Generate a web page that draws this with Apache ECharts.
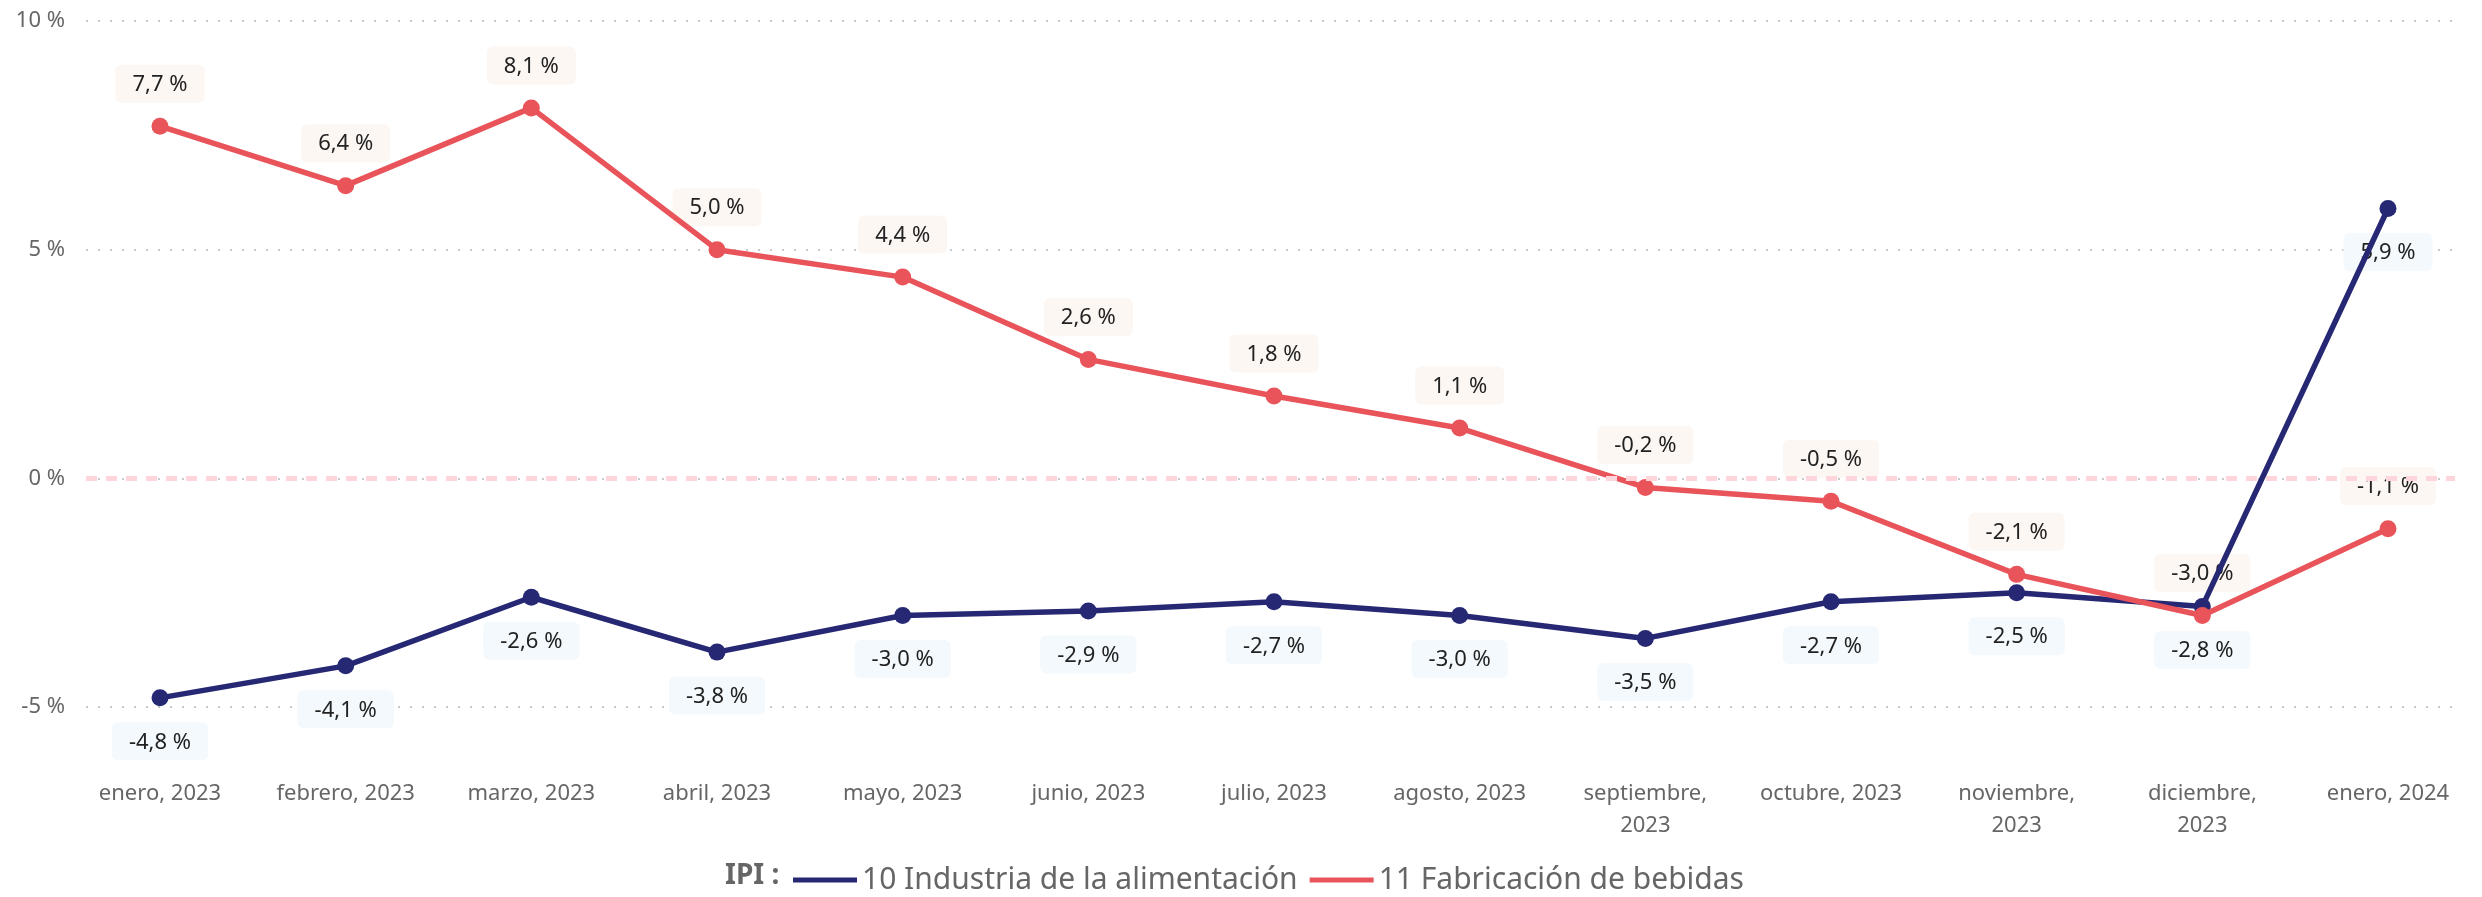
<!DOCTYPE html>
<html>
<head>
<meta charset="utf-8">
<script src="https://cdn.jsdelivr.net/npm/echarts@6/dist/echarts.min.js"></script>
<style>
  html, body { margin: 0; padding: 0; background: #fff; }
  #chart { width: 2482px; height: 897px; }
</style>
</head>
<body>
<div id="chart"></div>
<script>
const categories = ["enero, 2023", "febrero, 2023", "marzo, 2023", "abril, 2023", "mayo, 2023", "junio, 2023", "julio, 2023", "agosto, 2023", "septiembre,\n2023", "octubre, 2023", "noviembre,\n2023", "diciembre,\n2023", "enero, 2024"];
const alimentacion = [-4.8, -4.1, -2.6, -3.8, -3.0, -2.9, -2.7, -3.0, -3.5, -2.7, -2.5, -2.8, 5.9];
const bebidas = [7.7, 6.4, 8.1, 5.0, 4.4, 2.6, 1.8, 1.1, -0.2, -0.5, -2.1, -3.0, -1.1];
const seriesNames = ["10 Industria de la alimentación", "11 Fabricación de bebidas"];
const legendTitle = "IPI :";
const yTicks = { min: -5, max: 10, interval: 5 };

const FONT = "'Noto Sans', 'Open Sans', sans-serif";
const fmt = v => v.toFixed(1).replace('.', ',') + ' %';
const BLUE = '#262874';
const RED = '#E9545A';

function labelSeries(data, position, distance, bg) {
  return {
    type: 'scatter', xAxisIndex: 1, yAxisIndex: 1, data: data,
    symbolSize: 17, itemStyle: { color: 'rgba(0,0,0,0)' }, silent: true, z: 2,
    label: {
      show: true, position: position, distance: distance, opacity: 1,
      formatter: p => fmt(p.value),
      fontSize: 22, color: '#222222', fontFamily: FONT,
      backgroundColor: bg, borderRadius: 6, padding: [9, 17, 7, 17]
    }
  };
}

const chart = echarts.init(document.getElementById('chart'));
chart.setOption({
  animation: false,
  textStyle: { fontFamily: FONT },
  title: {
    text: legendTitle,
    left: 720, top: 857,
    textStyle: { fontFamily: FONT, fontSize: 28, fontWeight: 'bold', color: '#666666' }
  },
  legend: {
    left: 788, top: 860,
    icon: 'rect',
    itemWidth: 64, itemHeight: 5,
    itemGap: 12,
    textStyle: { fontFamily: FONT, fontSize: 30, color: '#666666' },
    data: seriesNames
  },
  grid: [
    { left: 86, right: 27, top: 21, height: 686 },
    { left: 160, right: 94, top: 21, height: 686 }
  ],
  xAxis: [
    { gridIndex: 0, type: 'value', min: 0, max: 1, show: false },
    {
      gridIndex: 1, type: 'category', data: categories, boundaryGap: false,
      axisLine: { show: false }, axisTick: { show: false },
      axisLabel: { margin: 71, fontSize: 22, color: '#666666', lineHeight: 32, fontFamily: FONT, interval: 0 }
    }
  ],
  yAxis: [
    {
      gridIndex: 0, type: 'value', min: yTicks.min, max: yTicks.max, interval: yTicks.interval,
      axisLine: { show: false }, axisTick: { show: false },
      axisLabel: { fontSize: 22, color: '#666666', margin: 21, formatter: v => v + ' %', fontFamily: FONT },
      splitLine: { lineStyle: { color: '#C8C8C8', width: 2, type: [2, 10] } }
    },
    {
      gridIndex: 1, type: 'value', min: yTicks.min, max: yTicks.max, interval: yTicks.interval,
      show: false, splitLine: { show: false }
    }
  ],
  series: [
    {
      type: 'line', xAxisIndex: 0, yAxisIndex: 0, data: [[0, 0], [1, 0]],
      symbol: 'none', lineStyle: { opacity: 0 }, silent: true, legendHoverLink: false, z: 1,
      markLine: {
        silent: true, symbol: 'none', label: { show: false },
        lineStyle: { color: '#FFD5DC', width: 5, type: [11, 9] },
        data: [{ yAxis: 0 }]
      }
    },
    labelSeries(alimentacion, 'bottom', 16, '#F3F9FC'),
    labelSeries(bebidas, 'top', 15, '#FDF7F4'),
    {
      name: seriesNames[0], type: 'line', xAxisIndex: 1, yAxisIndex: 1, data: alimentacion,
      color: BLUE, symbol: 'circle', symbolSize: 17, lineStyle: { width: 5.5 },
      z: 3
    },
    {
      name: seriesNames[1], type: 'line', xAxisIndex: 1, yAxisIndex: 1, data: bebidas,
      color: RED, symbol: 'circle', symbolSize: 17, lineStyle: { width: 5.5 },
      z: 4
    }
  ]
});
</script>
</body>
</html>
